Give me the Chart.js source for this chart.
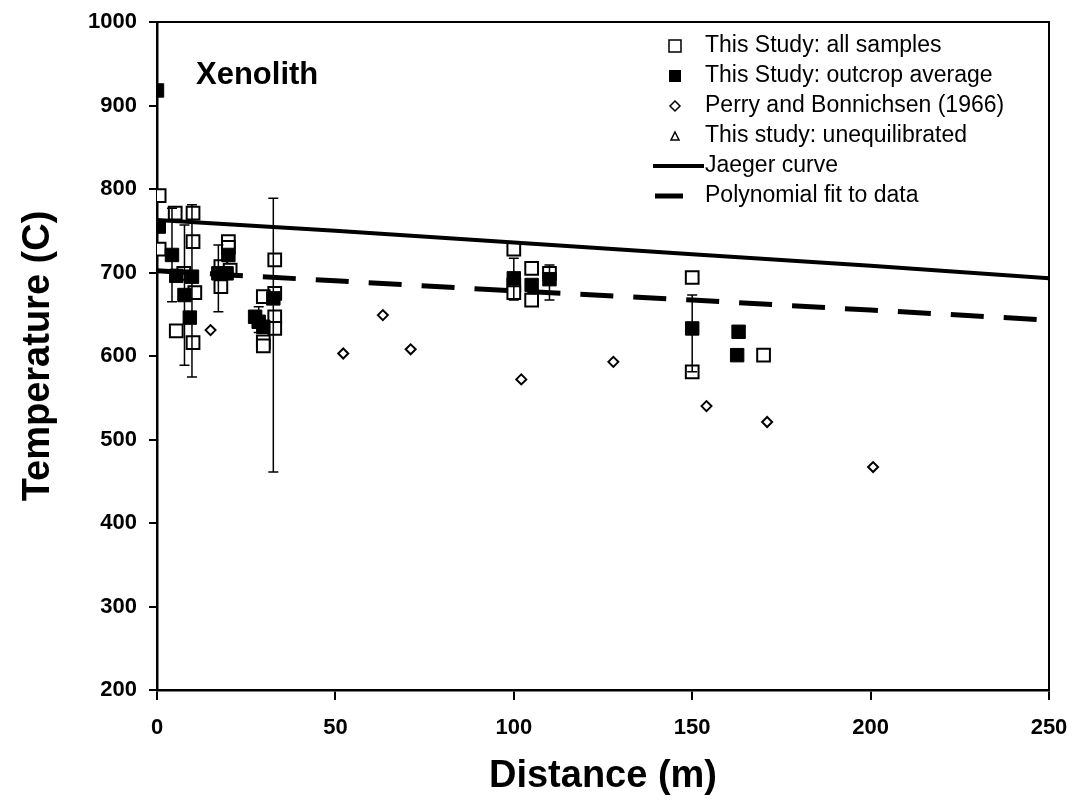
<!DOCTYPE html>
<html>
<head>
<meta charset="utf-8">
<script src="https://cdn.jsdelivr.net/npm/chart.js@4.4.1/dist/chart.umd.min.js"></script>
<style>
  html, body { margin: 0; padding: 0; background: #fff; }
  #wrap { width: 1077px; height: 804px; }
</style>
</head>
<body>
<div id="wrap"><canvas id="grafico" width="1077" height="804"></canvas></div>
<script>
// valores
const yTicks = [200, 300, 400, 500, 600, 700, 800, 900, 1000];
const xTicks = [0, 50, 100, 150, 200, 250];

const amostrasX = [0.6, 5.1, 10.1, 0.6, 10.1, 10.6, 7.5, 5.4, 10.1, 20, 20, 17.9, 17.9, 20.5, 33, 33, 29.8, 33, 33, 29.8, 29.8, 100, 100, 100, 105, 105, 110, 150, 150, 170];
const amostrasY = [792, 771, 771, 728, 737, 676, 699, 630, 616, 737, 730, 707, 683, 703, 715, 675, 671, 647, 633, 617, 612, 728, 685, 676, 705, 667, 699, 694, 581, 601];

const mediaX = [0, 0.5, 4.2, 5.4, 7.7, 9.2, 9.8, 17.2, 19.5, 20, 27.5, 28.5, 29.8, 32.6, 100, 105, 110, 150, 163, 162.6];
const mediaY = [918, 755, 721, 696, 673, 646, 695, 699, 699, 721, 647, 641, 635, 669, 693, 685, 692, 633, 629, 601];

const erroX = [4.2, 7.7, 9.8, 17.2, 28.5, 32.6, 100, 110, 150];
const erroMin = [665, 589, 575, 653, 628, 461, 667, 667, 581];
const erroMax = [777, 757, 781, 733, 659, 789, 717, 709, 673];

const perryX = [15, 52.2, 63.3, 71.1, 102.1, 127.9, 154, 171, 200.7];
const perryY = [631, 603, 649, 608, 572, 593, 540, 521, 467];

const curvaX = [0, 50, 100, 150, 200, 250];
const jaegerY = [763, 750, 736, 722, 708, 693];
const polyY = [702, 690, 678, 667, 655, 643];

const legendaTextos = [
  "This Study: all samples",
  "This Study: outcrop average",
  "Perry and Bonnichsen (1966)",
  "This study: unequilibrated",
  "Jaeger curve",
  "Polynomial fit to data"
];

const pares = (xs, ys) => xs.map((x, i) => ({ x: x, y: ys[i] }));

const fundoBranco = {
  id: "fundoBranco",
  beforeDraw(chart) {
    const ctx = chart.ctx;
    ctx.save();
    ctx.fillStyle = "#fff";
    ctx.fillRect(0, 0, chart.width, chart.height);
    ctx.restore();
  }
};

const barrasErro = {
  id: "barrasErro",
  afterDatasetsDraw(chart) {
    const ctx = chart.ctx;
    const sx = chart.scales.x, sy = chart.scales.y;
    ctx.save();
    ctx.strokeStyle = "#000";
    ctx.lineWidth = 1.5;
    erroX.forEach((x, i) => {
      const px = sx.getPixelForValue(x);
      const y1 = sy.getPixelForValue(erroMin[i]);
      const y2 = sy.getPixelForValue(erroMax[i]);
      ctx.beginPath();
      ctx.moveTo(px, y1); ctx.lineTo(px, y2);
      ctx.moveTo(px - 5, y1); ctx.lineTo(px + 5, y1);
      ctx.moveTo(px - 5, y2); ctx.lineTo(px + 5, y2);
      ctx.stroke();
    });
    ctx.restore();
  }
};

const molduraLegenda = {
  id: "molduraLegenda",
  afterDraw(chart) {
    const ctx = chart.ctx;
    const a = chart.chartArea;
    ctx.save();
    ctx.strokeStyle = "#000";
    ctx.lineWidth = 2;
    ctx.beginPath();
    ctx.moveTo(a.left, a.top); ctx.lineTo(a.right, a.top); ctx.lineTo(a.right, a.bottom);
    ctx.stroke();

    ctx.fillStyle = "#000";
    ctx.font = "bold 31px 'Liberation Sans', Arial, sans-serif";
    ctx.textBaseline = "middle";
    ctx.textAlign = "left";
    ctx.fillText("Xenolith", 196, 75);

    ctx.font = "23px 'Liberation Sans', Arial, sans-serif";
    const mx = 675, tx = 705;
    legendaTextos.forEach((t, i) => {
      const y = 46 + i * 30;
      ctx.fillStyle = "#000";
      ctx.fillText(t, tx, y);
      ctx.lineWidth = 1.5;
      ctx.beginPath();
      if (i === 0) {
        ctx.fillStyle = "#fff";
        ctx.rect(mx - 6, y - 6, 12, 12); ctx.fill(); ctx.stroke();
      } else if (i === 1) {
        ctx.rect(mx - 6, y - 6, 12, 12); ctx.fill();
      } else if (i === 2) {
        ctx.moveTo(mx, y - 5); ctx.lineTo(mx + 5, y); ctx.lineTo(mx, y + 5); ctx.lineTo(mx - 5, y); ctx.closePath();
        ctx.stroke();
      } else if (i === 3) {
        ctx.moveTo(mx, y - 4); ctx.lineTo(mx + 4, y + 4); ctx.lineTo(mx - 4, y + 4); ctx.closePath();
        ctx.stroke();
      } else if (i === 4) {
        ctx.lineWidth = 4;
        ctx.moveTo(653, y); ctx.lineTo(704, y); ctx.stroke();
      } else {
        ctx.lineWidth = 5;
        ctx.moveTo(655, y); ctx.lineTo(683, y); ctx.stroke();
      }
    });
    ctx.restore();
  }
};

const fonteTicks = { family: "'Liberation Sans', Arial", size: 22, weight: "bold" };
const fonteTitulo = { family: "'Liberation Sans', Arial", size: 38, weight: "bold" };

new Chart(document.getElementById("grafico"), {
  type: "scatter",
  data: {
    datasets: [
      {
        label: "Jaeger curve",
        type: "line",
        data: pares(curvaX, jaegerY),
        borderColor: "#000",
        borderWidth: 4,
        pointRadius: 0,
        fill: false
      },
      {
        label: "Polynomial fit to data",
        type: "line",
        data: pares(curvaX, polyY),
        borderColor: "#000",
        borderWidth: 5,
        borderDash: [33, 20],
        pointRadius: 0,
        fill: false
      },
      {
        label: "This Study: outcrop average",
        data: pares(mediaX, mediaY),
        pointStyle: "rect",
        pointRadius: 9.5,
        backgroundColor: "#000",
        borderColor: "#000",
        borderWidth: 1
      },
      {
        label: "This Study: all samples",
        data: pares(amostrasX, amostrasY),
        pointStyle: "rect",
        pointRadius: 9,
        backgroundColor: "#fff",
        borderColor: "#000",
        borderWidth: 2
      },
      {
        label: "Perry and Bonnichsen (1966)",
        data: pares(perryX, perryY),
        pointStyle: "rectRot",
        pointRadius: 5,
        backgroundColor: "#fff",
        borderColor: "#000",
        borderWidth: 2
      },
      {
        label: "This study: unequilibrated",
        data: [],
        pointStyle: "triangle",
        pointRadius: 5,
        backgroundColor: "#fff",
        borderColor: "#000"
      }
    ]
  },
  options: {
    responsive: false,
    animation: false,
    layout: { padding: { top: 22, right: 28, left: 0, bottom: 0 } },
    plugins: { legend: { display: false }, tooltip: { enabled: false } },
    scales: {
      x: {
        type: "linear",
        min: 0,
        max: 250,
        afterFit: s => { s.height = 114; s.paddingLeft = 0; s.paddingRight = 0; },
        afterBuildTicks: s => { s.ticks = xTicks.map(v => ({ value: v })); },
        ticks: { color: "#000", padding: 15, font: fonteTicks, callback: v => String(v) },
        grid: { drawOnChartArea: false, drawTicks: true, tickLength: 10, color: "#000", lineWidth: 2 },
        border: { display: true, color: "#000", width: 2.5 },
        title: { display: true, text: "Distance (m)", color: "#000", padding: 5, font: fonteTitulo }
      },
      y: {
        min: 200,
        max: 1000,
        afterFit: s => { s.width = 157; s.paddingTop = 0; s.paddingBottom = 0; },
        afterBuildTicks: s => { s.ticks = yTicks.map(v => ({ value: v })); },
        ticks: { color: "#000", padding: 12, font: fonteTicks, callback: v => String(v) },
        grid: { drawOnChartArea: false, drawTicks: true, tickLength: 8, color: "#000", lineWidth: 2 },
        border: { display: true, color: "#000", width: 2.5 },
        title: { display: true, text: "Temperature (C)", color: "#000", padding: 16, font: fonteTitulo }
      }
    }
  },
  plugins: [fundoBranco, barrasErro, molduraLegenda]
});
</script>
</body>
</html>
